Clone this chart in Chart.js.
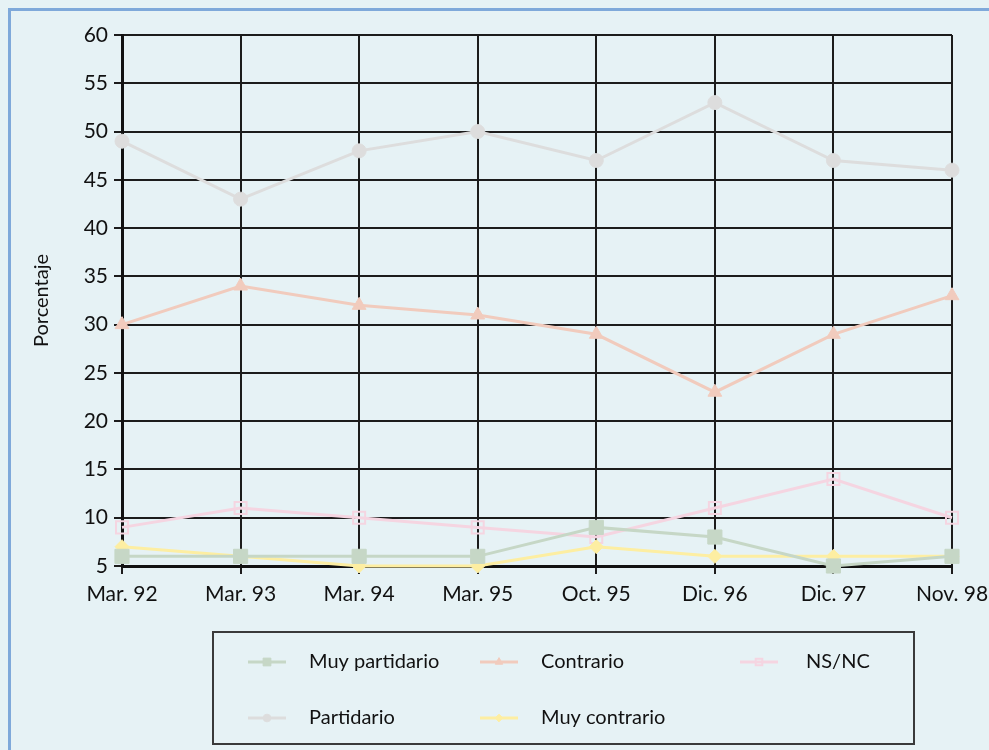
<!DOCTYPE html>
<html lang="es">
<head>
<meta charset="utf-8">
<title>Porcentaje por opinión</title>
<script src="https://cdn.jsdelivr.net/npm/chart.js@4/dist/chart.umd.min.js"></script>
<style>
  html, body { margin: 0; padding: 0; background: #e6f2f5; overflow: hidden; }
  #frame {
    position: absolute; left: 8px; top: 8px; width: 1100px; height: 1100px;
    border-left: 3px solid #7fa9da; border-top: 3px solid #7fa9da;
  }
  #wrap { position: absolute; left: 0; top: 0; width: 989px; height: 750px; }
</style>
</head>
<body>
<div id="frame"></div>
<div id="wrap"><canvas id="c" width="989" height="750"></canvas></div>
<script>
// Survey dates (x axis)
const fechas = ['Mar. 92', 'Mar. 93', 'Mar. 94', 'Mar. 95', 'Oct. 95', 'Dic. 96', 'Dic. 97', 'Nov. 98'];

// Percentages per answer
const muyPartidario = [6, 6, 6, 6, 9, 8, 5, 6];
const partidario    = [49, 43, 48, 50, 47, 53, 47, 46];
const contrario     = [30, 34, 32, 31, 29, 23, 29, 33];
const muyContrario  = [7, 6, 5, 5, 7, 6, 6, 6];
const nsnc          = [9, 11, 10, 9, 8, 11, 14, 10];

// Y axis range
const yMin = 5, yMax = 60, yStep = 5;

const FONT = 'Lato, "Noto Sans", sans-serif';

function serie(label, data, color, style, radius, fill) {
  return {
    label, data,
    borderColor: color,
    backgroundColor: fill === false ? 'rgba(0,0,0,0)' : color,
    pointBackgroundColor: fill === false ? 'rgba(0,0,0,0)' : color,
    pointBorderColor: color,
    pointBorderWidth: fill === false ? 2 : 1,
    pointStyle: style,
    pointRadius: radius,
    pointHoverRadius: radius,
    borderWidth: 3,
    tension: 0,
    clip: false
  };
}

// Legend order: column by column (2 rows)
const datasets = [
  serie('Muy partidario', muyPartidario, '#c6d7c6', 'rect', 10),
  serie('Partidario', partidario, '#dddddd', 'circle', 7),
  serie('Contrario', contrario, '#f1cbbd', 'triangle', 8),
  serie('Muy contrario', muyContrario, '#fdeea2', 'rectRot', 7),
  serie('NS/NC', nsnc, '#f5d5e1', 'rect', 8.5, false)
];

// Boxed legend laid out in columns
const boxedLegend = {
  id: 'boxedLegend',
  afterDraw(chart) {
    const ctx = chart.ctx;
    const box = { x: 213, y: 632, w: 701, h: 112 };
    ctx.save();
    ctx.strokeStyle = '#3a3a3a';
    ctx.lineWidth = 2;
    ctx.strokeRect(box.x, box.y, box.w, box.h);
    const cols = [248, 480, 740];
    const rows = [662, 718];
    const lineLen = 38;
    chart.data.datasets.forEach((ds, i) => {
      const col = Math.floor(i / 2), row = i % 2;
      const x0 = cols[col], y0 = rows[row];
      ctx.strokeStyle = ds.borderColor;
      ctx.lineWidth = 3;
      ctx.beginPath();
      ctx.moveTo(x0, y0);
      ctx.lineTo(x0 + lineLen, y0);
      ctx.stroke();
      ctx.fillStyle = ds.pointBackgroundColor;
      ctx.strokeStyle = ds.pointBorderColor;
      ctx.lineWidth = ds.pointBorderWidth;
      Chart.helpers.drawPoint(ctx, { pointStyle: ds.pointStyle, radius: ds.pointRadius * 0.55, rotation: 0, borderWidth: ds.pointBorderWidth }, x0 + lineLen / 2, y0);
      ctx.fillStyle = '#111';
      ctx.font = '20px ' + FONT;
      ctx.textBaseline = 'middle';
      ctx.textAlign = 'left';
      ctx.fillText(ds.label, x0 + lineLen + (col === 2 ? 28 : 23), y0);
    });
    ctx.restore();
  }
};

new Chart(document.getElementById('c'), {
  type: 'line',
  data: { labels: fechas, datasets },
  options: {
    responsive: false,
    animation: false,
    events: [],
    layout: { padding: { top: 35, right: 37, bottom: 134, left: 0 } },
    plugins: { legend: { display: false }, tooltip: { enabled: false } },
    scales: {
      x: {
        offset: false,
        afterFit(scale) { scale.height = 50; scale.paddingRight = 0; scale.paddingLeft = 0; },
        grid: { color: '#1c1c1c', lineWidth: 2, drawTicks: true, tickLength: 8, tickColor: '#1c1c1c' },
        border: { color: '#111', width: 3 },
        ticks: { color: '#111', font: { family: FONT, size: 21 }, padding: 8, maxRotation: 0, autoSkip: false }
      },
      y: {
        min: yMin, max: yMax,
        afterFit(scale) { scale.width = 122; },
        grid: { color: '#1c1c1c', lineWidth: 2, drawTicks: true, tickLength: 8, tickColor: '#1c1c1c' },
        border: { color: '#111', width: 3 },
        ticks: { stepSize: yStep, color: '#111', font: { family: FONT, size: 21 }, padding: 6 },
        title: { display: true, text: 'Porcentaje', color: '#111', font: { family: FONT, size: 20 }, padding: { top: 30, bottom: 0 } }
      }
    }
  },
  plugins: [boxedLegend]
});
</script>
</body>
</html>
